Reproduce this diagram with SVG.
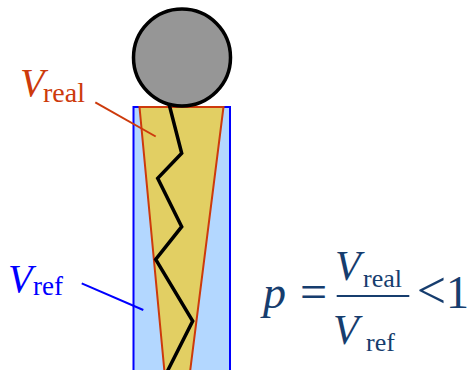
<svg xmlns="http://www.w3.org/2000/svg" width="469" height="370" viewBox="0 0 469 370">
  <style>
    .serif { font-family: "Liberation Serif", "Times New Roman", serif; }
    .it { font-style: italic; }
    .red { fill: #CD3A0C; }
    .blue { fill: #0000FF; }
    .navy { fill: #163D6E; }
  </style>
  <rect width="469" height="370" fill="#FFFFFF"/>
  <g id="vessel">
    <rect x="133.5" y="107" width="96.5" height="270" fill="#B3D7FF" stroke="#0000FF" stroke-width="2"/>
  </g>
  <g id="cone">
    <polygon points="139.5,107 223.5,107 190,372 164.5,372" fill="#E2CF63" stroke="#CD3A0C" stroke-width="2" stroke-linejoin="miter"/>
  </g>
  <g id="crack">
    <polyline points="168,100 181.7,153.3 157.7,178.3 181.7,226.7 155.7,259.3 192.7,321 167,372" fill="none" stroke="#000000" stroke-width="3.5" stroke-linejoin="miter"/>
  </g>
  <g id="ball">
    <circle cx="182" cy="57.5" r="48.5" fill="#969696" stroke="#000000" stroke-width="3.5"/>
  </g>
  <g id="connectors">
    <line x1="95.3" y1="102.3" x2="155.7" y2="136.5" stroke="#CD3A0C" stroke-width="2"/>
    <line x1="81.7" y1="283.3" x2="143.3" y2="310" stroke="#0000FF" stroke-width="2"/>
  </g>
  <g id="label-real" class="serif red">
    <text x="20" y="96" font-size="40" class="it">V</text>
    <text x="43" y="101.5" font-size="28">real</text>
  </g>
  <g id="label-ref" class="serif blue">
    <text x="8" y="291.5" font-size="40" class="it">V</text>
    <text x="33" y="295" font-size="27">ref</text>
  </g>
  <g id="formula" class="serif navy">
    <text x="263" y="308" font-size="46" class="it">p</text>
    <text x="300" y="308" font-size="48">=</text>
    <text x="335" y="279.5" font-size="42" class="it">V</text>
    <text x="363" y="286.5" font-size="26">real</text>
    <rect x="336.7" y="295" width="72.6" height="2"/>
    <text x="333" y="344" font-size="42" class="it">V</text>
    <text x="366" y="351" font-size="26">ref</text>
    <text x="469" y="308" font-size="46" text-anchor="end"><tspan font-size="52">&lt;</tspan>1</text>
  </g>
</svg>
